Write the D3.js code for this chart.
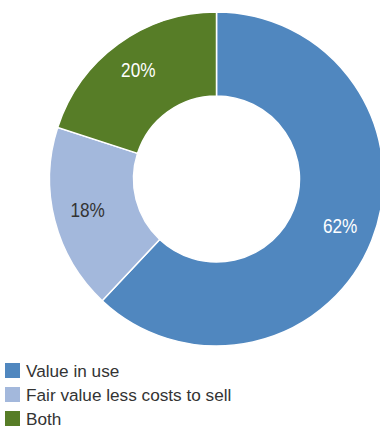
<!DOCTYPE html>
<html>
<head>
<meta charset="utf-8">
<script src="https://cdn.jsdelivr.net/npm/d3@7"></script>
<style>
  html, body { margin: 0; padding: 0; background: #fff; }
  svg { display: block; }
  text { font-family: "Liberation Sans", Arial, sans-serif; }
</style>
</head>
<body>
<svg id="chart" width="380" height="427"></svg>
<script>
const categories = ["Value in use", "Fair value less costs to sell", "Both"];
const values = [62, 18, 20];
const colors = ["#5087bf", "#a3b8dc", "#577d27"];
const labelColors = ["#ffffff", "#333333", "#ffffff"];

const svg = d3.select("#chart");
const cx = 216.5, cy = 179;
const outerR = 167, innerR = 83;

const pie = d3.pie().sort(null).value(d => d.value);
const data = categories.map((c, i) => ({ name: c, value: values[i], color: colors[i], label: labelColors[i] }));
const arcs = pie(data);

const arc = d3.arc().innerRadius(innerR).outerRadius(outerR);
const labelArc = d3.arc().innerRadius(133).outerRadius(133);

const g = svg.append("g").attr("transform", `translate(${cx},${cy})`);

g.selectAll("path")
  .data(arcs)
  .join("path")
  .attr("d", arc)
  .attr("fill", d => d.data.color)
  .attr("stroke", "#ffffff")
  .attr("stroke-width", 1.5);

// Percentage labels, slightly condensed
g.selectAll("text")
  .data(arcs)
  .join("text")
  .attr("transform", d => {
    const [x, y] = labelArc.centroid(d);
    return `translate(${x},${y - 2}) scale(0.86,1)`;
  })
  .attr("text-anchor", "middle")
  .attr("dy", "0.36em")
  .attr("font-size", 20)
  .attr("fill", d => d.data.label)
  .text(d => d.data.value + "%");

// Legend
const legend = svg.append("g").attr("transform", "translate(5,363)");
const rows = legend.selectAll("g")
  .data(data)
  .join("g")
  .attr("transform", (d, i) => `translate(0,${i * 24})`);

rows.append("rect")
  .attr("width", 15)
  .attr("height", 15)
  .attr("fill", d => d.color);

rows.append("text")
  .attr("x", 21)
  .attr("y", 7.5)
  .attr("dy", "0.36em")
  .attr("font-size", 17.2)
  .attr("fill", "#333333")
  .text(d => d.name);
</script>
</body>
</html>
